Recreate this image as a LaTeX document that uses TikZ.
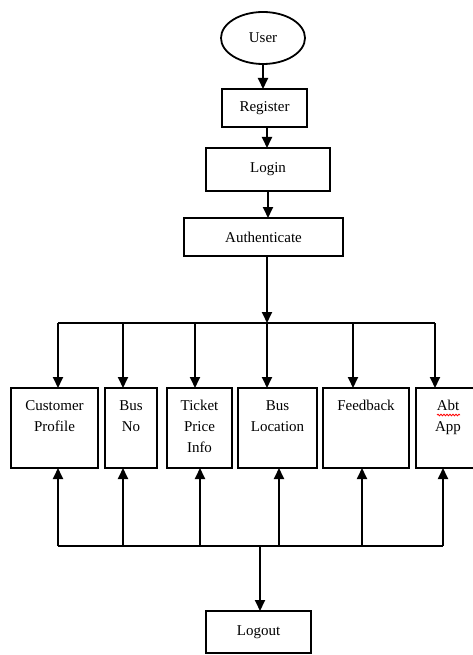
\documentclass[tikz,border=0pt]{standalone}
\usepackage{fontspec}
\setmainfont{Liberation Serif}
\usetikzlibrary{shapes.geometric,arrows.meta,positioning,decorations.pathmorphing}

\begin{document}
\begin{tikzpicture}[x=1pt,y=-1pt,node distance=24pt,>={Triangle[length=11pt,width=10pt]},line width=1.8pt,
  font=\fontsize{15}{21}\selectfont,
  box/.style={draw,rectangle,inner sep=0pt,outer sep=0pt},
  module/.style={draw,rectangle,inner sep=0pt,outer sep=0pt,minimum height=80pt,anchor=north west},
  modtext/.style={anchor=north,align=center,yshift=-8pt}]
\useasboundingbox (0,0) rectangle (472,655);
% login chain
\node[ellipse,draw,minimum width=84pt,minimum height=52pt,inner sep=0pt,outer sep=0pt] (user) at (263,38) {User};
\node[box,minimum width=85pt,minimum height=38pt,below=25pt of user,xshift=1.5pt] (reg) {Register};
\node[box,minimum width=124pt,minimum height=43pt,below=21pt of reg,xshift=3.5pt] (login) {Login};
\node[box,minimum width=159pt,minimum height=38pt,below=27pt of login,xshift=-4.5pt] (auth) {Authenticate};
\draw[->] (user.south) -- (user.south |- reg.north);
\draw[->] ([xshift=2.5pt]reg.south) -- ([xshift=2.5pt]reg.south |- login.north);
\draw[->] (login.south) -- (login.south |- auth.north);
% modules
\node[module,minimum width=87pt,label={[modtext]north:{Customer\\Profile}}] (cp) at (11,388) {};
\node[module,minimum width=52pt,right=7pt of cp,label={[modtext]north:{Bus\\No}}] (busno) {};
\node[module,minimum width=65pt,right=10pt of busno,label={[modtext]north:{Ticket\\Price\\Info}}] (ticket) {};
\node[module,minimum width=79pt,right=6pt of ticket,label={[modtext]north:{Bus\\Location}}] (busloc) {};
\node[module,minimum width=86pt,right=6pt of busloc,label={[modtext]north:Feedback}] (feedback) {};
\node[module,minimum width=64pt,right=7pt of feedback,label={[modtext]north:{Abt\\App}}] (abt) {};
\draw[red,line width=0.8pt,decorate,decoration={snake,amplitude=0.8pt,segment length=3pt}]
  ([xshift=-11pt,yshift=-27pt]abt.north) -- ([xshift=12pt,yshift=-27pt]abt.north);
% top bus
\coordinate (tbus) at ([yshift=-67pt]auth.south);
\draw[->] ([xshift=3.5pt]auth.south) -- ([xshift=3.5pt]auth.south |- tbus);
\draw ([xshift=3.5pt]cp.north |- tbus) -- ([xshift=-13pt]abt.north |- tbus);
\draw[->] ([xshift=3.5pt]cp.north |- tbus) -- ([xshift=3.5pt]cp.north);
\draw[->] ([xshift=-8pt]busno.north |- tbus) -- ([xshift=-8pt]busno.north);
\draw[->] ([xshift=-4.5pt]ticket.north |- tbus) -- ([xshift=-4.5pt]ticket.north);
\draw[->] ([xshift=-10.5pt]busloc.north |- tbus) -- ([xshift=-10.5pt]busloc.north);
\draw[->] ([xshift=-13pt]feedback.north |- tbus) -- ([xshift=-13pt]feedback.north);
\draw[->] ([xshift=-13pt]abt.north |- tbus) -- ([xshift=-13pt]abt.north);
% bottom bus
\coordinate (bbus) at ([yshift=-78pt]cp.south);
\draw ([xshift=3.5pt]cp.south |- bbus) -- ([xshift=-5pt]abt.south |- bbus);
\draw[->] ([xshift=3.5pt]cp.south |- bbus) -- ([xshift=3.5pt]cp.south);
\draw[->] ([xshift=-8pt]busno.south |- bbus) -- ([xshift=-8pt]busno.south);
\draw[->] ([xshift=0.5pt]ticket.south |- bbus) -- ([xshift=0.5pt]ticket.south);
\draw[->] ([xshift=1.5pt]busloc.south |- bbus) -- ([xshift=1.5pt]busloc.south);
\draw[->] ([xshift=-4pt]feedback.south |- bbus) -- ([xshift=-4pt]feedback.south);
\draw[->] ([xshift=-5pt]abt.south |- bbus) -- ([xshift=-5pt]abt.south);
% logout
\node[box,minimum width=105pt,minimum height=42pt] (logout) at (258.5,632) {Logout};
\draw[->] ([xshift=1.5pt]logout.north |- bbus) -- ([xshift=1.5pt]logout.north);
\end{tikzpicture}
\end{document}
